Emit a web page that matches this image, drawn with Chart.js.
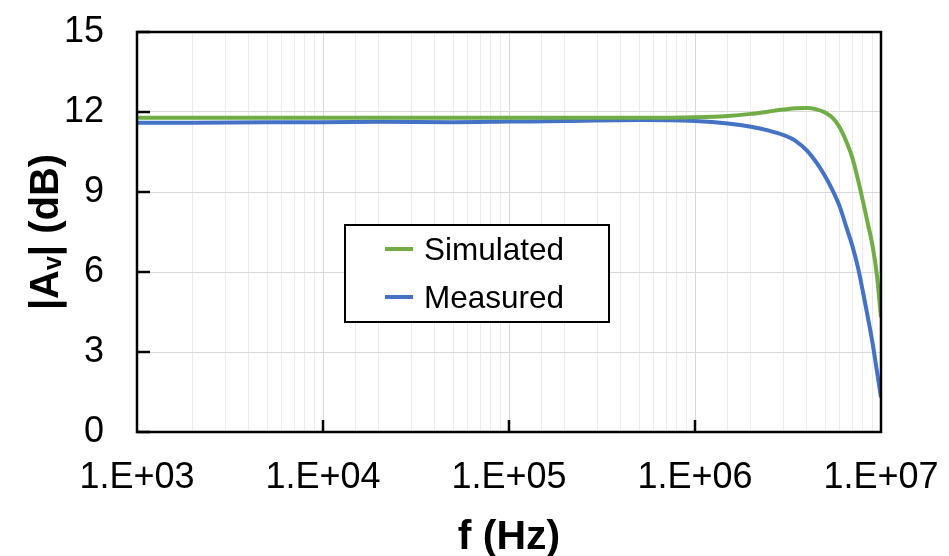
<!DOCTYPE html>
<html>
<head>
<meta charset="utf-8">
<script src="https://cdn.jsdelivr.net/npm/chart.js@4"></script>
<style>
	body { margin: 0; background: #fff; }
	#khung { width: 949px; height: 556px; }
</style>
</head>
<body>
<div id="khung"><canvas id="bieuDo"></canvas></div>
<script>
// tan so (Hz)
var tanSo = [1e3, 2e3, 5e3, 1e4, 2e4, 5e4, 1e5, 2e5, 5e5, 1e6, 1.5e6, 2e6, 2.5e6, 3e6, 3.5e6, 4e6, 4.5e6, 5e6, 5.5e6, 6e6, 6.5e6, 7e6, 7.5e6, 8e6, 8.5e6, 9e6, 9.5e6, 1e7];
var moPhong = [11.78, 11.78, 11.78, 11.78, 11.78, 11.78, 11.78, 11.78, 11.78, 11.8, 11.85, 11.93, 12.02, 12.09, 12.14, 12.15, 12.1, 11.98, 11.78, 11.42, 10.9, 10.3, 9.5, 8.65, 7.8, 7.0, 5.9, 4.3];
var doDuoc = [11.6, 11.6, 11.62, 11.62, 11.63, 11.62, 11.64, 11.66, 11.7, 11.66, 11.57, 11.45, 11.3, 11.13, 10.9, 10.55, 10.1, 9.6, 9.05, 8.45, 7.7, 7.0, 6.2, 5.25, 4.3, 3.35, 2.3, 1.3];
var tenDuong = ['Simulated', 'Measured'];
var mauDuong = ['#70ad47', '#4472c4'];
var nhanTrucX = ['1.E+03', '1.E+04', '1.E+05', '1.E+06', '1.E+07'];
var giaTriTrucY = [0, 3, 6, 9, 12, 15];

var font = "'Liberation Sans', Arial, sans-serif";

function taoDiem(xs, ys) {
	var diem = [];
	for (var i = 0; i < xs.length; i++) {
		diem.push({ x: xs[i], y: ys[i] });
	}
	return diem;
}

function laThapPhan(v) {
	var e = Math.log10(v);
	return Math.abs(e - Math.round(e)) < 1e-9;
}

// ve khung, vach chia huong vao trong, chu thich va ten truc
var veThem = {
	id: 'veThem',
	afterDatasetsDraw: function (chart) {
		var ctx = chart.ctx;
		var a = chart.chartArea;
		var sx = chart.scales.x;
		var sy = chart.scales.y;
		ctx.save();
		ctx.strokeStyle = '#000';
		ctx.lineWidth = 2.5;
		ctx.strokeRect(a.left, a.top, a.right - a.left, a.bottom - a.top);
		ctx.beginPath();
		giaTriTrucY.forEach(function (v) {
			var y = sy.getPixelForValue(v);
			ctx.moveTo(a.left, y);
			ctx.lineTo(a.left + 13, y);
		});
		for (var i = 1; i < nhanTrucX.length - 1; i++) {
			var x = sx.getPixelForValue(Math.pow(10, 3 + i));
			ctx.moveTo(x, a.bottom);
			ctx.lineTo(x, a.bottom - 12);
		}
		ctx.stroke();
		ctx.restore();
	},
	afterDraw: function (chart) {
		var ctx = chart.ctx;
		var a = chart.chartArea;
		ctx.save();
		// chu thich
		ctx.fillStyle = '#fff';
		ctx.fillRect(345, 225, 264, 97);
		ctx.strokeStyle = '#000';
		ctx.lineWidth = 2;
		ctx.strokeRect(345, 225, 264, 97);
		ctx.font = '31.5px ' + font;
		ctx.textBaseline = 'middle';
		ctx.textAlign = 'left';
		chart.data.datasets.forEach(function (ds, i) {
			var y = 249 + i * 48;
			ctx.strokeStyle = ds.borderColor;
			ctx.lineWidth = 4;
			ctx.beginPath();
			ctx.moveTo(385, y);
			ctx.lineTo(413, y);
			ctx.stroke();
			ctx.fillStyle = '#000';
			ctx.fillText(ds.label, 424, y + 2);
		});
		// ten truc x
		ctx.fillStyle = '#000';
		ctx.font = 'bold 41px ' + font;
		ctx.textAlign = 'center';
		ctx.textBaseline = 'alphabetic';
		ctx.fillText('f (Hz)', (a.left + a.right) / 2, 549);
		// ten truc y co chi so duoi
		var f1 = 'bold 40px ' + font;
		var f2 = 'bold 25px ' + font;
		ctx.font = f1;
		var w1 = ctx.measureText('|A').width;
		var w3 = ctx.measureText('| (dB)').width;
		ctx.font = f2;
		var w2 = ctx.measureText('v').width;
		var tong = w1 + w2 + w3;
		ctx.translate(58, 232);
		ctx.rotate(-Math.PI / 2);
		ctx.textAlign = 'left';
		ctx.font = f1;
		ctx.fillText('|A', -tong / 2, 0);
		ctx.font = f2;
		ctx.fillText('v', -tong / 2 + w1, 3);
		ctx.font = f1;
		ctx.fillText('| (dB)', -tong / 2 + w1 + w2, 0);
		ctx.restore();
	}
};

var config = {
	type: 'line',
	data: {
		datasets: [
			{
				label: tenDuong[0],
				data: taoDiem(tanSo, moPhong),
				borderColor: mauDuong[0],
				backgroundColor: mauDuong[0],
				borderWidth: 4,
				pointRadius: 0,
				cubicInterpolationMode: 'monotone'
			},
			{
				label: tenDuong[1],
				data: taoDiem(tanSo, doDuoc),
				borderColor: mauDuong[1],
				backgroundColor: mauDuong[1],
				borderWidth: 4,
				pointRadius: 0,
				cubicInterpolationMode: 'monotone'
			}
		]
	},
	options: {
		responsive: true,
		maintainAspectRatio: false,
		animation: false,
		layout: { padding: { left: 0, top: 32, right: 68, bottom: 0 } },
		plugins: {
			legend: { display: false },
			tooltip: { enabled: false }
		},
		scales: {
			x: {
				type: 'logarithmic',
				min: 1e3,
				max: 1e7,
				border: { display: false },
				grid: {
					drawTicks: false,
					color: function (c) {
						return laThapPhan(c.tick.value) ? '#d9d9d9' : '#ebebeb';
					}
				},
				ticks: {
					autoSkip: false,
					maxRotation: 0,
					padding: 24,
					color: '#000',
					font: { family: font, size: 36 },
					callback: function (v) {
						if (!laThapPhan(v)) {
							return '';
						}
						return nhanTrucX[Math.round(Math.log10(v)) - 3];
					}
				},
				afterFit: function (s) {
					s.height = 124;
					s.paddingLeft = 0;
					s.paddingRight = 0;
				}
			},
			y: {
				min: 0,
				max: 15,
				border: { display: false },
				grid: { drawTicks: false, color: '#d9d9d9' },
				ticks: {
					stepSize: 3,
					padding: 33,
					color: '#000',
					font: { family: font, size: 36 }
				},
				afterFit: function (s) {
					s.width = 137;
					s.paddingTop = 0;
					s.paddingBottom = 0;
				}
			}
		}
	},
	plugins: [veThem]
};

var bieuDo = new Chart(document.getElementById('bieuDo').getContext('2d'), config);
</script>
</body>
</html>
